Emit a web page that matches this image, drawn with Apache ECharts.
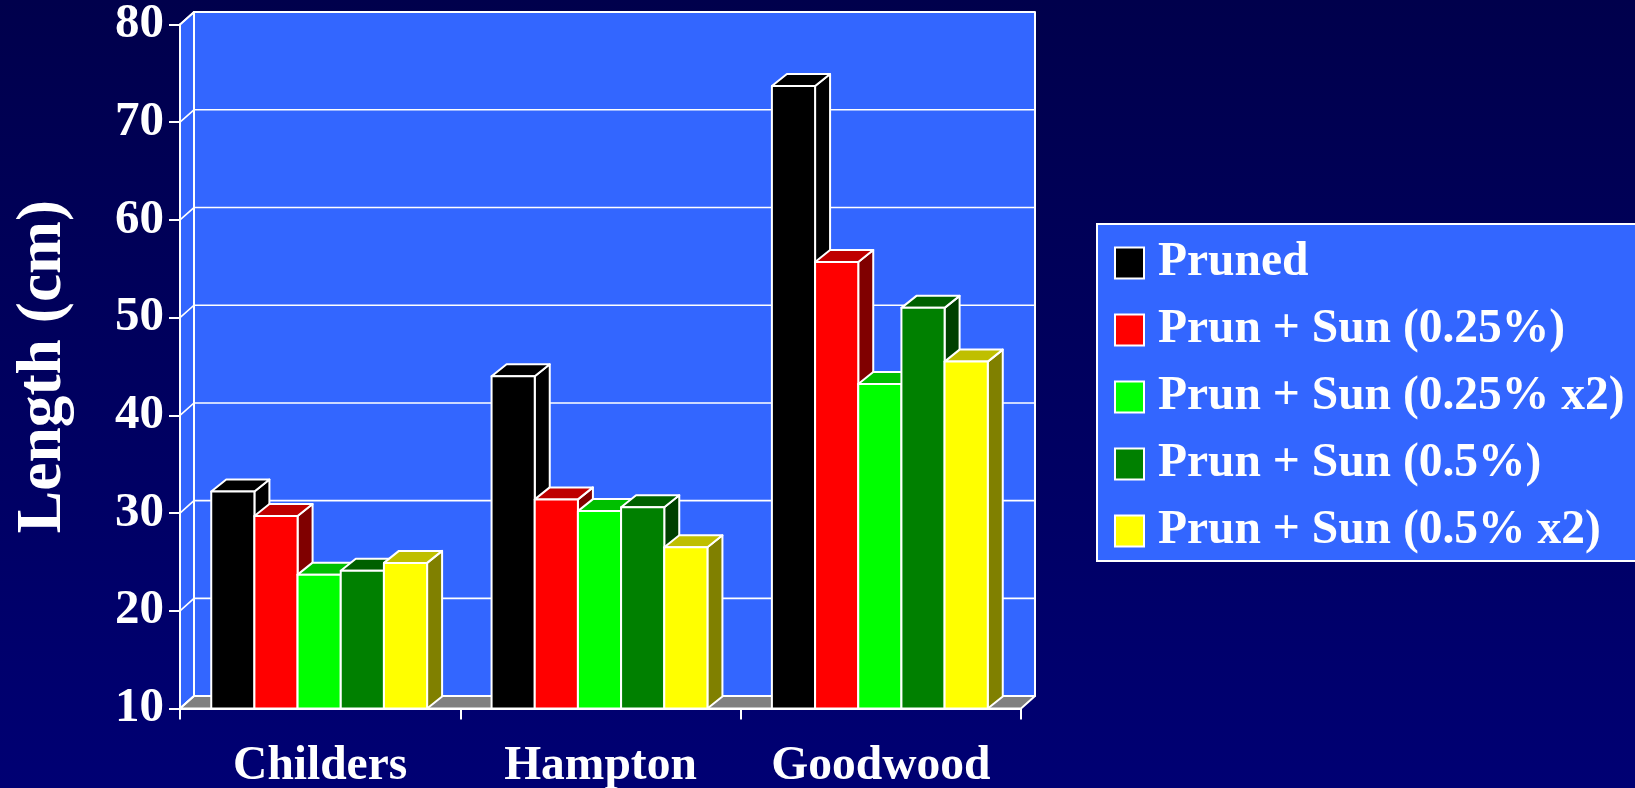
<!DOCTYPE html>
<html>
<head>
<meta charset="utf-8">
<style>html,body{margin:0;padding:0;background:#000060}#chart{width:1635px;height:788px}</style>
<script src="https://cdn.jsdelivr.net/npm/echarts@6/dist/echarts.min.js"></script>
</head>
<body>
<div id="chart"></div>
<script>
const categories = ['Childers', 'Hampton', 'Goodwood'];
const yTicks = [10, 20, 30, 40, 50, 60, 70, 80];
const seriesNames = ['Pruned', 'Prun + Sun (0.25%)', 'Prun + Sun (0.25% x2)', 'Prun + Sun (0.5%)', 'Prun + Sun (0.5% x2)'];
const pruned = [32.2, 44.0, 73.7];
const sun025 = [29.7, 31.4, 55.7];
const sun025x2 = [23.7, 30.2, 43.2];
const sun05 = [24.1, 30.6, 51.0];
const sun05x2 = [24.9, 26.5, 45.5];
const seriesValues = [pruned, sun025, sun025x2, sun05, sun05x2];

const frontColors = ['#000000', '#ff0000', '#00ff00', '#008000', '#ffff00'];
const topColors = ['#000000', '#bf0000', '#00bf00', '#006000', '#bfbf00'];
const sideColors = ['#000000', '#800000', '#008000', '#004000', '#808000'];

const DEPTH_X = 14, DEPTH_Y = 12.4, BAR_DEPTH_Y = 12;
const SERIF = '"Liberation Serif", "Times New Roman", serif';
const LINE = { stroke: '#ffffff', lineWidth: 2, lineJoin: 'round' };

function poly(points, fill, style) {
  return { type: 'polygon', shape: { points }, style: Object.assign({ fill }, style) };
}

// Walls, floor and horizontal rules of the box behind the bars
function renderWalls(params, api) {
  const g = params.coordSys;
  const y = api.coord([0, api.value(0)])[1];
  const children = [];
  const x0 = g.x, x1 = g.x + g.width, top = g.y, bot = g.y + g.height;
  if (params.dataIndex === 0) {
    children.push(poly([[x0 + DEPTH_X, top - DEPTH_Y], [x1 + DEPTH_X, top - DEPTH_Y], [x1 + DEPTH_X, bot - DEPTH_Y], [x0 + DEPTH_X, bot - DEPTH_Y]], '#3366ff', LINE));
    children.push(poly([[x0, top], [x0 + DEPTH_X, top - DEPTH_Y], [x0 + DEPTH_X, bot - DEPTH_Y], [x0, bot]], '#3366ff', LINE));
    children.push(poly([[x0, bot], [x0 + DEPTH_X, bot - DEPTH_Y], [x1 + DEPTH_X, bot - DEPTH_Y], [x1, bot]], '#808080', LINE));
  }
  children.push({ type: 'polyline', shape: { points: [[x0, y], [x0 + DEPTH_X, y - DEPTH_Y], [x1 + DEPTH_X, y - DEPTH_Y]] }, style: { fill: null, stroke: '#ffffff', lineWidth: 1.6 } });
  return { type: 'group', children };
}

// One bar drawn as a box: side and top faces behind the front face
function makeBarRenderer(index) {
  return function (params, api) {
    const band = api.size([1, 0])[0];
    const w = band * 0.154;
    const base = api.coord([api.value(0), 10]);
    const head = api.coord([api.value(0), api.value(1)]);
    const left = base[0] - 1 - w * 2.5 + w * index;
    const right = left + w;
    const t = head[1], b = base[1];
    const dx = DEPTH_X + 1, dy = BAR_DEPTH_Y;
    return {
      type: 'group',
      children: [
        poly([[right, t], [right + dx, t - dy], [right + dx, b - dy], [right, b]], sideColors[index], LINE),
        poly([[left, t], [left + dx, t - dy], [right + dx, t - dy], [right, t]], topColors[index], LINE),
        { type: 'rect', shape: { x: left, y: t, width: w, height: b - t }, style: Object.assign({ fill: frontColors[index] }, LINE) }
      ]
    };
  };
}

const barSeries = seriesNames.map((name, i) => ({
  type: 'custom',
  name,
  renderItem: makeBarRenderer(i),
  encode: { x: 0, y: 1 },
  data: seriesValues[i].map((v, c) => [c, v]),
  itemStyle: { color: frontColors[i] },
  clip: false,
  silent: true,
  animation: false
}));

const chart = echarts.init(document.getElementById('chart'), null, { renderer: 'canvas' });
chart.setOption({
  animation: false,
  backgroundColor: {
    type: 'linear', x: 0, y: 0, x2: 0, y2: 1,
    colorStops: [{ offset: 0, color: '#00004c' }, { offset: 1, color: '#000073' }]
  },
  grid: { left: 180, right: 614, top: 24.5, bottom: 79.5, containLabel: false, outerBoundsMode: 'none' },
  xAxis: {
    type: 'category',
    data: categories,
    boundaryGap: true,
    axisLine: { lineStyle: { color: '#ffffff', width: 2 } },
    axisTick: { show: true, length: 11, interval: 0, lineStyle: { color: '#ffffff', width: 2 } },
    axisLabel: { color: '#ffffff', fontFamily: SERIF, fontWeight: 'bold', fontSize: 47.5, margin: 34, interval: 0 }
  },
  yAxis: {
    type: 'value',
    min: 10,
    max: 80,
    interval: 10,
    name: 'Length (cm)',
    nameLocation: 'middle',
    nameGap: 104,
    nameTextStyle: { color: '#ffffff', fontFamily: SERIF, fontWeight: 'bold', fontSize: 63.5 },
    axisLine: { show: true, lineStyle: { color: '#ffffff', width: 2 } },
    axisTick: { show: true, length: 11, lineStyle: { color: '#ffffff', width: 2 } },
    axisLabel: { color: '#ffffff', fontFamily: SERIF, fontWeight: 'bold', fontSize: 49, margin: 16, padding: [11, 0, 0, 0] },
    splitLine: { show: false }
  },
  legend: {
    orient: 'vertical',
    left: 1097,
    top: 224,
    padding: [10, 50, 1, 17],
    backgroundColor: '#3366ff',
    borderColor: '#ffffff',
    borderWidth: 2,
    itemWidth: 29,
    itemHeight: 31,
    itemGap: 9,
    icon: 'rect',
    selectedMode: false,
    textStyle: { color: '#ffffff', fontFamily: SERIF, fontWeight: 'bold', fontSize: 47.5, lineHeight: 38, padding: [20, 0, 0, 9] },
    data: seriesNames.map(name => ({ name, itemStyle: { borderColor: '#ffffff', borderWidth: 2 } }))
  },
  series: [{
    type: 'custom',
    name: 'walls',
    renderItem: renderWalls,
    encode: { y: 0 },
    data: yTicks.map(v => [v]),
    clip: false,
    silent: true,
    animation: false,
    z: 1
  }].concat(barSeries.map(s => Object.assign(s, { z: 2 })))
});
</script>
</body>
</html>
